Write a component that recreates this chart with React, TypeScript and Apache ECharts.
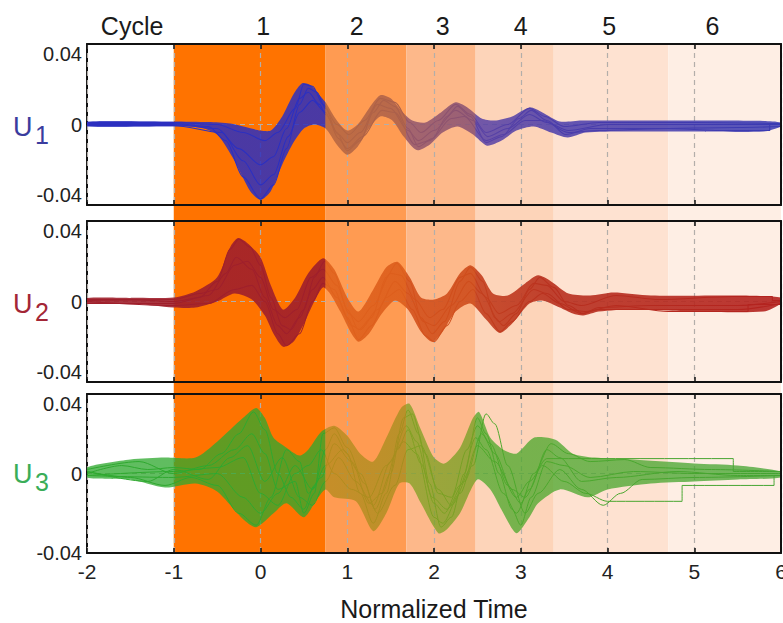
import React, { useEffect, useRef } from 'react';
import * as echarts from 'echarts';

// ---------- data ----------
const bandStart = [-1, 0.75, 1.68, 2.48, 3.38, 4.7];
const bandEnd = [0.75, 1.68, 2.48, 3.38, 4.7, 6];
const cycleLabels = ['Cycle', '1', '2', '3', '4', '5', '6'];
const cycleLabelX = [-1.48, 0.03, 1.11, 2.1, 3.0, 4.02, 5.21];
const panelSubscripts = ['1', '2', '3'];
const yTickValues = [-0.04, 0, 0.04];

// U1 envelope and sample traces
const u1Upper = [[-2, 0.0015], [-1, 0.0015], [-0.6, 0.0012], [-0.35, 0.0005], [-0.15, -0.0015], [0.0, -0.003], [0.12, -0.003], [0.25, 0.004], [0.38, 0.015], [0.48, 0.0205], [0.58, 0.0195], [0.68, 0.0145], [0.75, 0.011], [0.88, 0.002], [1.0, -0.003], [1.12, 0.0], [1.25, 0.008], [1.38, 0.0145], [1.5, 0.013], [1.62, 0.007], [1.75, 0.002], [1.9, 0.001], [2.08, 0.006], [2.25, 0.011], [2.4, 0.008], [2.55, 0.003], [2.7, 0.002], [2.9, 0.004], [3.1, 0.0085], [3.25, 0.006], [3.45, 0.0015], [3.7, 0.002], [4.2, 0.002], [5.0, 0.002], [5.8, 0.0018], [6, 0.001]];
const u1Lower = [[-2, -0.001], [-1, -0.001], [-0.7, -0.0015], [-0.5, -0.005], [-0.3, -0.018], [-0.12, -0.033], [0.0, -0.0375], [0.12, -0.033], [0.25, -0.02], [0.38, -0.009], [0.5, -0.002], [0.62, 0.0], [0.75, -0.002], [0.88, -0.01], [1.0, -0.015], [1.12, -0.011], [1.25, -0.002], [1.38, 0.004], [1.52, 0.002], [1.65, -0.006], [1.8, -0.0127], [1.95, -0.01], [2.1, -0.004], [2.27, -0.001], [2.45, -0.005], [2.61, -0.0105], [2.78, -0.008], [2.95, -0.003], [3.15, -0.001], [3.35, -0.004], [3.54, -0.0065], [3.75, -0.004], [4.2, -0.0035], [5.0, -0.0035], [5.8, -0.0035], [6, -0.001]];
const u1TraceA = [[-2, 0.0005], [-1, 0.0005], [-0.6, -0.001], [-0.4, -0.008], [-0.2, -0.026], [0, -0.037], [0.15, -0.03], [0.3, -0.012], [0.45, 0.01], [0.55, 0.018], [0.65, 0.016], [0.75, 0.008], [0.88, -0.004], [1.0, -0.013], [1.15, -0.008], [1.3, 0.006], [1.42, 0.012], [1.55, 0.009], [1.7, -0.002], [1.82, -0.011], [1.98, -0.007], [2.15, 0.004], [2.27, 0.009], [2.42, 0.004], [2.6, -0.009], [2.78, -0.006], [2.98, 0.003], [3.12, 0.007], [3.3, 0.002], [3.52, -0.005], [3.8, -0.002], [4.5, -0.002], [5.5, -0.0015], [6, -0.001]];
const u1TraceB = [[-2, 0.0], [-1, 0.0], [-0.5, -0.002], [-0.25, -0.012], [0, -0.02], [0.15, -0.016], [0.3, -0.002], [0.45, 0.013], [0.55, 0.016], [0.68, 0.01], [0.75, 0.005], [0.9, -0.005], [1.0, -0.009], [1.15, -0.004], [1.35, 0.01], [1.5, 0.008], [1.7, -0.003], [1.82, -0.008], [2.0, -0.003], [2.25, 0.007], [2.45, 0.002], [2.62, -0.006], [2.85, -0.002], [3.1, 0.005], [3.3, 0.001], [3.55, -0.003], [4, 0.0], [5, 0.0], [6, 0.0]];
const u1TraceC = [[-2, 0.001], [-1, 0.001], [-0.5, 0.0], [-0.2, -0.004], [0.05, -0.008], [0.2, -0.004], [0.4, 0.008], [0.5, 0.02], [0.6, 0.019], [0.72, 0.01], [0.88, 0.0], [1.02, -0.005], [1.2, 0.002], [1.38, 0.013], [1.55, 0.011], [1.72, 0.001], [1.85, -0.004], [2.05, 0.002], [2.25, 0.01], [2.42, 0.005], [2.6, -0.004], [2.85, 0.0], [3.1, 0.008], [3.28, 0.004], [3.5, -0.001], [3.9, 0.001], [5, 0.001], [6, 0.0005]];
const u1TraceD = [[-2, -0.0005], [-1, -0.0005], [-0.45, -0.004], [-0.2, -0.018], [0, -0.03], [0.15, -0.025], [0.32, -0.006], [0.45, 0.006], [0.6, 0.012], [0.75, 0.006], [0.9, -0.007], [1.0, -0.012], [1.18, -0.006], [1.4, 0.007], [1.55, 0.006], [1.78, -0.01], [1.95, -0.008], [2.2, 0.003], [2.35, 0.004], [2.6, -0.008], [2.8, -0.005], [3.05, 0.002], [3.25, 0.002], [3.55, -0.004], [3.9, -0.003], [4.7, -0.002], [5.3, -0.003], [5.87, -0.003], [5.87, 0.0], [6, 0.0]];

// U2 envelope and sample traces
const u2Upper = [[-2, 0.0017], [-1.5, 0.0018], [-1, 0.002], [-0.75, 0.005], [-0.5, 0.012], [-0.35, 0.027], [-0.26, 0.0315], [-0.15, 0.029], [0.0, 0.022], [0.12, 0.008], [0.26, -0.004], [0.4, 0.002], [0.55, 0.014], [0.72, 0.0215], [0.85, 0.016], [1.0, 0.002], [1.13, -0.005], [1.3, 0.006], [1.45, 0.017], [1.58, 0.0197], [1.72, 0.012], [1.85, 0.002], [2.0, 0.001], [2.15, 0.004], [2.3, 0.014], [2.42, 0.018], [2.55, 0.013], [2.68, 0.004], [2.85, 0.003], [3.05, 0.009], [3.2, 0.013], [3.35, 0.01], [3.55, 0.004], [3.8, 0.003], [4.07, 0.0045], [4.5, 0.003], [5.5, 0.003], [6, 0.002]];
const u2Lower = [[-2, -0.0007], [-1.5, -0.001], [-1, -0.003], [-0.75, -0.003], [-0.5, 0.0], [-0.3, 0.004], [-0.1, 0.001], [0.05, -0.007], [0.15, -0.016], [0.26, -0.0225], [0.38, -0.02], [0.5, -0.011], [0.62, 0.0], [0.72, 0.007], [0.8, 0.004], [0.92, -0.005], [1.05, -0.016], [1.13, -0.02], [1.25, -0.016], [1.4, -0.006], [1.55, 0.0005], [1.7, -0.004], [1.85, -0.015], [1.98, -0.02], [2.1, -0.015], [2.25, -0.005], [2.42, -0.001], [2.6, -0.009], [2.76, -0.0157], [2.92, -0.01], [3.1, -0.001], [3.25, 0.0005], [3.45, -0.003], [3.6, -0.006], [3.72, -0.007], [3.9, -0.005], [4.3, -0.004], [5.0, -0.005], [5.8, -0.005], [6, -0.001]];
const u2TraceA = [[-2, 0.001], [-1.5, 0.001], [-1, 0.0], [-0.7, 0.002], [-0.5, 0.01], [-0.35, 0.026], [-0.25, 0.031], [-0.12, 0.027], [0.0, 0.018], [0.12, 0.002], [0.25, -0.012], [0.35, -0.014], [0.5, -0.004], [0.62, 0.012], [0.74, 0.02], [0.85, 0.014], [1.0, -0.004], [1.13, -0.014], [1.28, -0.008], [1.45, 0.012], [1.57, 0.019], [1.72, 0.01], [1.85, -0.008], [1.98, -0.016], [2.12, -0.01], [2.3, 0.01], [2.42, 0.017], [2.56, 0.01], [2.7, -0.008], [2.8, -0.012], [2.95, -0.006], [3.1, 0.006], [3.22, 0.012], [3.38, 0.007], [3.55, -0.002], [3.72, -0.006], [3.9, -0.003], [4.5, -0.002], [5.5, -0.002], [6, 0.0]];
const u2TraceB = [[-2, 0.0], [-1, -0.002], [-0.6, -0.001], [-0.3, 0.006], [-0.1, 0.008], [0.05, 0.0], [0.2, -0.016], [0.3, -0.022], [0.45, -0.016], [0.6, 0.0], [0.72, 0.009], [0.85, 0.006], [1.0, -0.008], [1.13, -0.019], [1.28, -0.012], [1.45, 0.002], [1.6, 0.006], [1.75, -0.004], [1.9, -0.017], [2.0, -0.02], [2.15, -0.012], [2.3, 0.0], [2.45, 0.006], [2.6, -0.006], [2.76, -0.015], [2.9, -0.01], [3.1, 0.0], [3.25, 0.004], [3.45, -0.001], [3.7, -0.006], [3.9, -0.004], [4.5, -0.004], [5.5, -0.004], [6, -0.001]];
const u2TraceC = [[-2, 0.0005], [-1, 0.001], [-0.7, 0.004], [-0.5, 0.006], [-0.3, 0.018], [-0.15, 0.02], [0.0, 0.012], [0.15, -0.004], [0.28, -0.008], [0.42, -0.004], [0.58, 0.012], [0.72, 0.016], [0.88, 0.008], [1.02, -0.006], [1.13, -0.01], [1.3, -0.002], [1.5, 0.014], [1.62, 0.013], [1.78, 0.001], [1.95, -0.008], [2.1, -0.004], [2.3, 0.012], [2.42, 0.014], [2.6, 0.002], [2.75, -0.006], [2.95, -0.002], [3.15, 0.009], [3.3, 0.008], [3.5, 0.0], [3.7, -0.002], [4.1, 0.003], [4.6, 0.001], [5.45, 0.0025], [5.9, 0.0025], [5.9, 0.0005], [6, 0.0005]];
const u2TraceD = [[-2, -0.001], [-1, -0.001], [-0.6, 0.003], [-0.4, 0.014], [-0.28, 0.022], [-0.1, 0.016], [0.05, 0.002], [0.2, -0.012], [0.3, -0.016], [0.45, -0.008], [0.6, 0.006], [0.72, 0.012], [0.88, 0.002], [1.05, -0.012], [1.15, -0.014], [1.35, -0.004], [1.55, 0.01], [1.7, 0.004], [1.88, -0.01], [2.0, -0.012], [2.2, -0.002], [2.4, 0.01], [2.55, 0.004], [2.75, -0.01], [2.9, -0.006], [3.15, 0.006], [3.3, 0.004], [3.55, -0.004], [3.75, -0.005], [4.1, -0.002], [4.7, -0.005], [5.62, -0.005], [5.62, -0.0015], [6, -0.0015]];

// U3 envelope and sample traces
const u3Upper = [[-2, 0.003], [-1.5, 0.007], [-1.1, 0.008], [-0.75, 0.008], [-0.5, 0.016], [-0.2, 0.028], [-0.05, 0.033], [0.05, 0.028], [0.15, 0.018], [0.3, 0.013], [0.45, 0.009], [0.55, 0.012], [0.7, 0.021], [0.85, 0.024], [1.0, 0.019], [1.15, 0.01], [1.3, 0.006], [1.45, 0.018], [1.62, 0.033], [1.72, 0.035], [1.85, 0.022], [2.0, 0.008], [2.12, 0.005], [2.3, 0.013], [2.45, 0.028], [2.52, 0.031], [2.65, 0.018], [2.8, 0.012], [2.95, 0.01], [3.15, 0.018], [3.4, 0.017], [3.6, 0.01], [3.85, 0.008], [4.3, 0.007], [5.0, 0.005], [5.5, 0.004], [6, 0.001]];
const u3Lower = [[-2, -0.002], [-1.5, -0.003], [-1.1, -0.007], [-0.75, -0.005], [-0.5, -0.009], [-0.2, -0.023], [-0.05, -0.027], [0.15, -0.02], [0.3, -0.015], [0.5, -0.022], [0.65, -0.013], [0.75, -0.008], [0.85, -0.012], [1.1, -0.014], [1.3, -0.029], [1.45, -0.02], [1.6, -0.005], [1.72, -0.005], [1.85, -0.015], [2.05, -0.03], [2.15, -0.028], [2.3, -0.02], [2.5, -0.003], [2.65, -0.008], [2.8, -0.02], [2.95, -0.03], [3.1, -0.022], [3.2, -0.015], [3.45, -0.008], [3.77, -0.012], [4.0, -0.008], [4.5, -0.005], [5.0, -0.004], [5.5, -0.003], [6, -0.002]];
const u3TraceA = [[-2, 0.0], [-1.6, 0.004], [-1.3, 0.002], [-1, 0.003], [-0.7, 0.002], [-0.45, 0.01], [-0.25, 0.02], [-0.08, 0.031], [0.05, 0.022], [0.2, 0.0], [0.35, -0.012], [0.5, -0.018], [0.62, -0.006], [0.75, 0.012], [0.85, 0.02], [1.0, 0.01], [1.15, -0.01], [1.3, -0.025], [1.45, -0.01], [1.6, 0.02], [1.7, 0.032], [1.82, 0.02], [1.95, -0.005], [2.08, -0.027], [2.2, -0.022], [2.35, 0.0], [2.5, 0.028], [2.6, 0.02], [2.75, 0.0], [2.9, -0.018], [3.0, -0.026], [3.12, -0.012], [3.3, 0.006], [3.5, 0.004], [3.8, -0.002], [4.3, 0.001], [5.0, 0.0], [6, 0.0]];
const u3TraceB = [[-2, 0.001], [-1.5, -0.002], [-1.1, -0.006], [-0.8, -0.002], [-0.5, -0.006], [-0.25, -0.02], [-0.05, -0.026], [0.12, -0.012], [0.3, 0.012], [0.45, 0.006], [0.55, -0.01], [0.7, -0.002], [0.85, 0.015], [1.05, 0.006], [1.25, -0.015], [1.4, -0.01], [1.58, 0.012], [1.7, 0.022], [1.85, 0.005], [2.0, -0.015], [2.12, -0.02], [2.3, -0.006], [2.48, 0.018], [2.6, 0.012], [2.8, -0.01], [2.95, -0.02], [3.1, -0.008], [3.3, 0.012], [3.45, 0.008], [3.7, -0.004], [4.1, -0.002], [4.8, 0.001], [5.5, -0.001], [6, -0.001]];
const u3TraceC = [[-2, 0.002], [-1.4, 0.006], [-1, 0.0], [-0.6, 0.004], [-0.3, 0.012], [-0.1, 0.02], [0.05, 0.01], [0.2, -0.008], [0.4, -0.004], [0.5, -0.02], [0.62, -0.01], [0.72, 0.02], [0.85, 0.023], [1.0, 0.013], [1.2, -0.005], [1.32, -0.018], [1.5, 0.0], [1.65, 0.028], [1.75, 0.03], [1.9, 0.01], [2.05, -0.01], [2.2, -0.012], [2.38, 0.012], [2.5, 0.024], [2.65, 0.015], [2.85, -0.006], [3.0, -0.015], [3.15, 0.0], [3.35, 0.015], [3.55, 0.01], [3.8, 0.006], [4.2, 0.007], [4.5, 0.003], [5.2, 0.002], [6, 0.001]];
const u3TraceD = [[-2, -0.001], [-1, -0.002], [-0.5, 0.0], [-0.2, -0.012], [0.0, -0.02], [0.2, -0.01], [0.4, 0.004], [0.6, -0.008], [0.75, 0.004], [0.95, 0.012], [1.15, 0.0], [1.35, -0.02], [1.55, -0.006], [1.7, 0.012], [1.85, 0.014], [2.05, -0.008], [2.2, -0.016], [2.45, 0.004], [2.6, 0.03], [2.7, 0.025], [2.85, 0.004], [3.05, -0.02], [3.2, -0.01], [3.45, 0.002], [3.7, -0.008], [3.95, -0.016], [4.15, -0.01], [4.4, -0.003], [5.0, -0.002], [6, -0.001]];
const u3TraceE = [[-2, -0.001], [-1, 0.001], [-0.5, 0.003], [-0.2, 0.008], [0.0, -0.01], [0.2, -0.016], [0.4, 0.0], [0.55, 0.004], [0.7, 0.012], [0.85, 0.0], [1.05, -0.008], [1.25, -0.012], [1.45, 0.004], [1.65, 0.016], [1.8, 0.01], [2.0, -0.022], [2.1, -0.025], [2.3, -0.01], [2.5, 0.014], [2.7, 0.006], [2.95, -0.012], [3.1, -0.004], [3.3, 0.0075], [5.45, 0.0075], [5.45, 0.001], [6, 0.001]];
const u3TraceF = [[-2, 0.001], [-1.3, -0.004], [-1, 0.002], [-0.6, -0.003], [-0.35, 0.008], [-0.15, 0.014], [0.05, -0.004], [0.25, 0.008], [0.45, -0.012], [0.6, -0.016], [0.75, -0.004], [0.9, 0.008], [1.1, -0.004], [1.3, -0.016], [1.5, 0.006], [1.68, 0.024], [1.8, 0.016], [1.98, -0.012], [2.15, -0.018], [2.35, -0.004], [2.55, 0.02], [2.7, 0.01], [2.9, -0.008], [3.05, -0.012], [3.25, 0.004], [3.5, -0.004], [3.75, -0.01], [4.0, -0.014], [4.86, -0.014], [4.86, -0.006], [5.92, -0.006], [5.92, -0.001], [6, -0.001]];

const panelUpper = [u1Upper, u2Upper, u3Upper];
const panelLower = [u1Lower, u2Lower, u3Lower];
const panelTraces = [
  [u1TraceA, u1TraceB, u1TraceC, u1TraceD],
  [u2TraceA, u2TraceB, u2TraceC, u2TraceD],
  [u3TraceA, u3TraceB, u3TraceC, u3TraceD, u3TraceE, u3TraceF],
];

// ---------- styles / layout ----------
const FONT = "'Liberation Sans', Arial, Helvetica, sans-serif";
const GRID_LEFT = 87;
const GRID_WIDTH = 694;
const panelTop = [44, 221, 394];
const panelHeight = [161, 161, 159];
const bandColors = ['#ff7300', '#ff9b52', '#fdb88a', '#fdd4b9', '#fee2d1', '#feeee4'];
const labelColors = ['#3a3c9e', '#a32636', '#3aad58'];
const labelY = [127, 304, 474];
const envOpacity = [0.85, 0.9, 0.76];
const lineWidths = [1.1, 1.1, 1.0];

const P = (x: number) => (x + 2) / 8;
const mkStops = (pairs: [number, string][]) => pairs.map(([o, c]) => ({ offset: Math.min(1, Math.max(0, o)), color: c }));
const panelStops = [
  mkStops([[0, '#2b2fc0'], [P(0.75) - 0.0005, '#2b2fc0'], [P(0.75), '#b5653f'], [P(1.68) - 0.0005, '#aa5f4c'], [P(1.68), '#955668'], [P(2.48) - 0.0005, '#875074'], [P(2.48), '#5a42a4'], [P(3.38), '#4a3caa'], [1, '#3a3ab2']]),
  mkStops([[0, '#9f1f2b'], [P(0.75) - 0.0005, '#9f1f2b'], [P(0.75), '#e0621c'], [P(1.68) - 0.0005, '#dc5d1c'], [P(1.68), '#d4521c'], [P(2.48) - 0.0005, '#ce4c1c'], [P(2.48), '#c4401e'], [P(3.38), '#b8301f'], [1, '#b3221f']]),
  mkStops([[0, '#2ea82e'], [P(0.75) - 0.0005, '#2ea82e'], [P(0.75), '#b48a1c'], [P(1.68) - 0.0005, '#a48e1e'], [P(1.68), '#82a022'], [P(2.48) - 0.0005, '#74a024'], [P(2.48), '#4ea82a'], [1, '#44a432']]),
];

export default function App() {
  const ref = useRef<HTMLDivElement>(null);
  useEffect(() => {
    if (!ref.current) return;
    const chart = echarts.init(ref.current, undefined, { renderer: 'svg' });

    const grids: any[] = panelTop.map((t, i) => ({ left: GRID_LEFT, top: t, width: GRID_WIDTH, height: panelHeight[i], outerBoundsMode: 'none', containLabel: false }));
    grids.push({ left: GRID_LEFT, top: panelTop[0], width: GRID_WIDTH, height: panelTop[2] + panelHeight[2] - panelTop[0], outerBoundsMode: 'none', containLabel: false });

    const xAxes: any[] = [];
    const yAxes: any[] = [];
    const axisLine = { show: true, onZero: false, lineStyle: { color: '#111', width: 2 } };
    const dashed = { show: true, lineStyle: { color: '#b3aeaa', width: 1.2, type: [5, 4] } };
    for (let i = 0; i < 3; i++) {
      xAxes.push({
        type: 'value', gridIndex: i, position: 'bottom', min: -2, max: 6, interval: 1, z: 4,
        axisLine, axisTick: { show: true, inside: true, length: 5, lineStyle: { color: '#111', width: 1.5 } },
        axisLabel: { show: i === 2, margin: 8, fontSize: 21, color: '#222', fontFamily: FONT, formatter: (v: number) => String(v) },
        splitLine: dashed,
        name: i === 2 ? 'Normalized Time' : '', nameLocation: 'middle', nameGap: 43,
        nameTextStyle: { fontSize: 25, color: '#1a1a1a', fontFamily: FONT },
      });
      xAxes.push({
        type: 'value', gridIndex: i, position: 'top', min: -2, max: 6, interval: 1, z: 10,
        axisLine, axisTick: { show: true, inside: true, length: 5, lineStyle: { color: '#111', width: 1.5 } },
        axisLabel: { show: false }, splitLine: { show: false },
      });
      yAxes.push({
        type: 'value', gridIndex: i, position: 'left', min: yTickValues[0], max: yTickValues[2], interval: 0.04, z: 3,
        axisLine, axisTick: { show: false },
        axisLabel: {
          margin: 5, fontSize: 20, color: '#222', fontFamily: FONT,
          formatter: (v: number) => (Math.abs(v) < 1e-9 ? '0' : v.toFixed(2)),
          verticalAlignMaxLabel: 'top', verticalAlignMinLabel: i === 2 ? 'middle' : 'bottom',
        },
        splitLine: dashed,
      });
      yAxes.push({
        type: 'value', gridIndex: i, position: 'right', min: -0.04, max: 0.04, interval: 0.04, z: 10,
        axisLine, axisTick: { show: false }, axisLabel: { show: false }, splitLine: { show: false },
      });
    }
    xAxes.push({ type: 'value', gridIndex: 3, min: -2, max: 6, show: false });
    yAxes.push({ type: 'value', gridIndex: 3, min: 0, max: 1, show: false });

    const series: any[] = [];
    // background cycle bands
    series.push({
      type: 'custom', xAxisIndex: 6, yAxisIndex: 6, z: 1, silent: true, clip: false,
      data: bandStart.map((s, i) => [s, bandEnd[i], i]),
      encode: { x: [0, 1], y: 2 },
      renderItem: (params: any, api: any) => {
        const p0 = api.coord([api.value(0), 1]);
        const p1 = api.coord([api.value(1), 0]);
        return { type: 'rect', shape: { x: p0[0], y: p0[1], width: p1[0] - p0[0], height: p1[1] - p0[1] }, style: { fill: bandColors[api.value(2)] } };
      },
    });
    // cycle labels
    series.push({
      type: 'custom', xAxisIndex: 6, yAxisIndex: 6, z: 10, silent: true, clip: false,
      data: cycleLabelX.map((x, i) => [x, 1, i]),
      encode: { x: 0, y: 1 },
      renderItem: (params: any, api: any) => {
        const p = api.coord([api.value(0), api.value(1)]);
        return { type: 'text', x: p[0], y: p[1] - 6, style: { text: cycleLabels[api.value(2)], fill: '#1a1a1a', fontSize: 25, fontFamily: FONT, align: 'center', verticalAlign: 'bottom' } };
      },
    });

    for (let i = 0; i < 3; i++) {
      const upper = panelUpper[i];
      const lower = panelLower[i];
      const stops = panelStops[i];
      series.push({
        type: 'custom', xAxisIndex: 2 * i, yAxisIndex: 2 * i, z: 5, silent: true, clip: true,
        data: [[0, 0]],
        renderItem: (params: any, api: any) => {
          const pts = upper.map((p) => api.coord(p)).concat(lower.slice().reverse().map((p) => api.coord(p)));
          const xa = api.coord([-2, 0])[0];
          const xb = api.coord([6, 0])[0];
          return {
            type: 'polygon',
            shape: { points: pts, smooth: 0.25 },
            style: { fill: new echarts.graphic.LinearGradient(xa, 0, xb, 0, stops, true), opacity: envOpacity[i] },
          };
        },
      });
      panelTraces[i].forEach((tr) => {
        series.push({
          type: 'line', xAxisIndex: 2 * i, yAxisIndex: 2 * i, z: 6, silent: true,
          data: tr, showSymbol: false, symbol: 'none', smooth: 0.3, smoothMonotone: 'x',
          lineStyle: { width: lineWidths[i], color: { type: 'linear', x: 0, y: 0, x2: 1, y2: 0, colorStops: stops } },
        });
      });
    }

    const graphics: any[] = [];
    for (let i = 0; i < 3; i++) {
      graphics.push({ type: 'text', x: 13, y: labelY[i], silent: true, style: { text: 'U', fill: labelColors[i], fontSize: 27, fontFamily: FONT, align: 'left', verticalAlign: 'middle' } });
      graphics.push({ type: 'text', x: 35, y: labelY[i] + 8, silent: true, style: { text: panelSubscripts[i], fill: labelColors[i], fontSize: 25, fontFamily: FONT, align: 'left', verticalAlign: 'middle' } });
    }

    chart.setOption({
      animation: false,
      backgroundColor: '#ffffff',
      textStyle: { fontFamily: FONT },
      grid: grids,
      xAxis: xAxes,
      yAxis: yAxes,
      series,
      graphic: graphics,
    });
    return () => chart.dispose();
  }, []);
  return <div ref={ref} style={{ position: 'absolute', left: 0, top: 0, width: 783, height: 623 }} />;
}
